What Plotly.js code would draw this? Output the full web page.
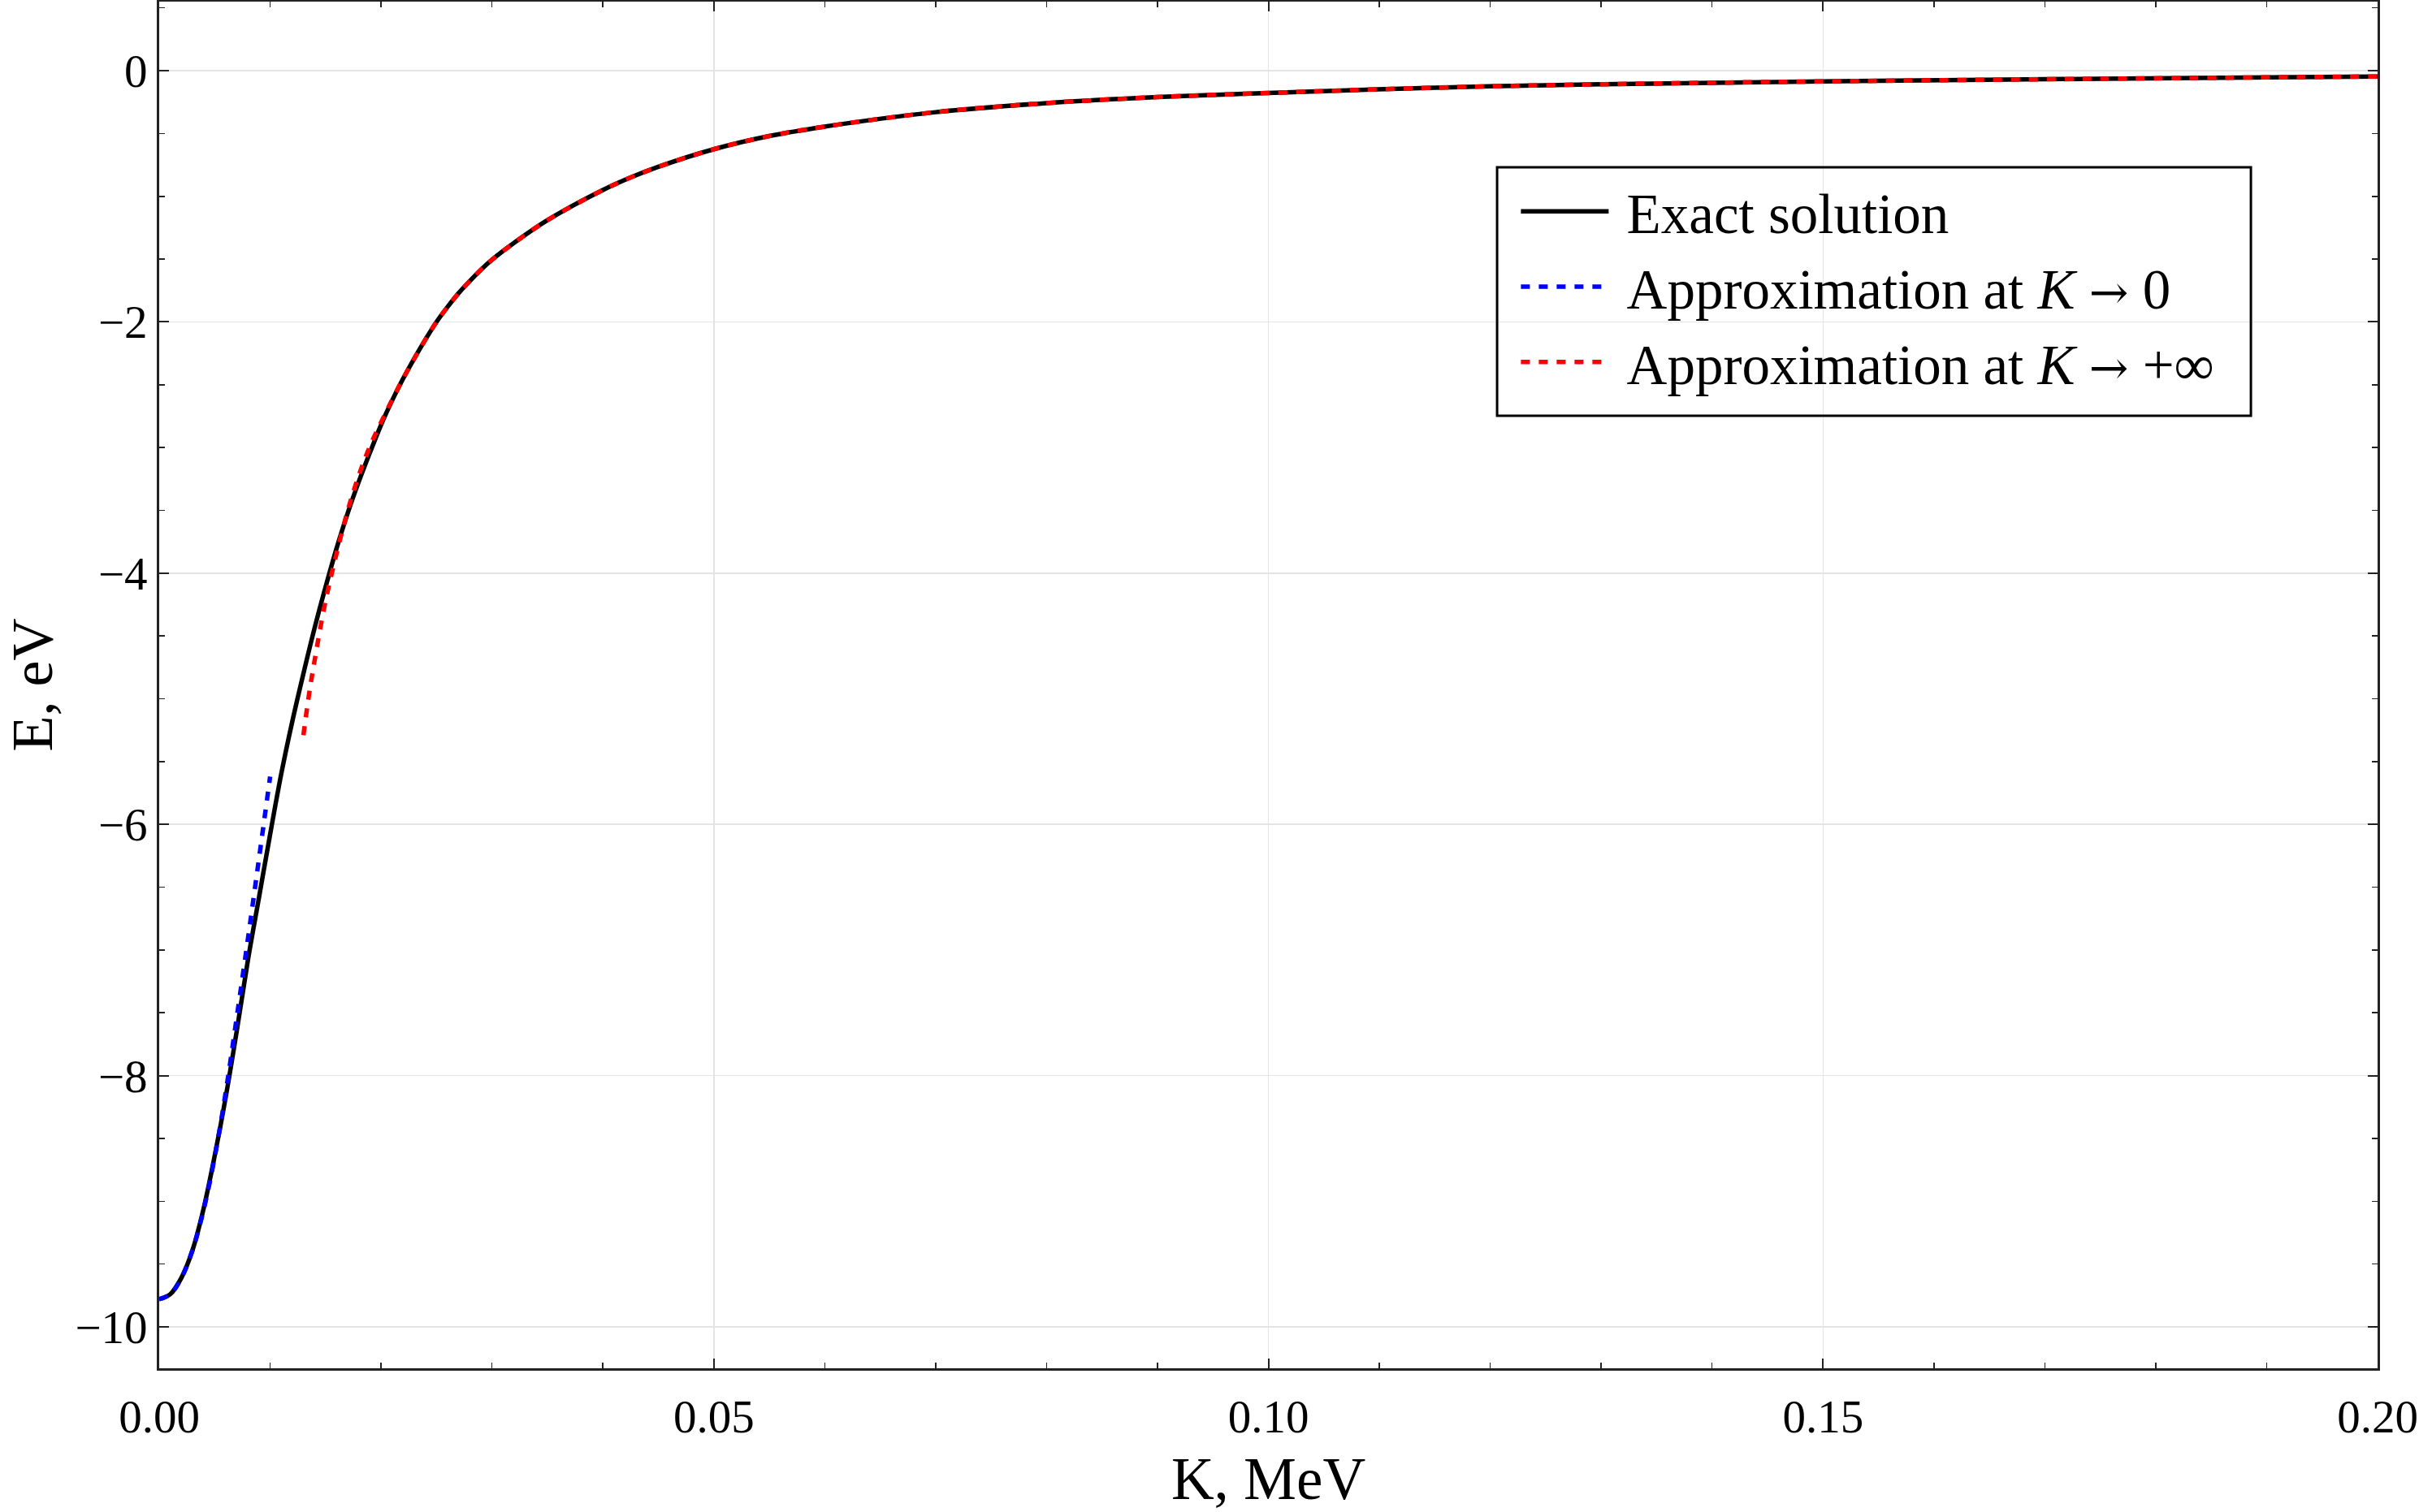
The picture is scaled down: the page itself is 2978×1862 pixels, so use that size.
<!DOCTYPE html>
<html>
<head>
<meta charset="utf-8">
<script src="https://cdn.plot.ly/plotly-3.0.1.min.js"></script>
<style>
  html, body { margin: 0; padding: 0; background: #fff; }
  #crtEnergy { width: 2978px; height: 1862px; }
</style>
</head>
<body>
<div id="crtEnergy"></div>
<script>
// K in MeV, E in eV
var exactK = [0, 0.001, 0.002, 0.003, 0.004, 0.005, 0.006, 0.007, 0.008, 0.009,
	0.010, 0.011, 0.012, 0.013, 0.014, 0.015, 0.016, 0.017, 0.018, 0.019,
	0.020, 0.021, 0.022, 0.023, 0.024, 0.025, 0.026, 0.027, 0.028, 0.029,
	0.030, 0.032, 0.035, 0.040, 0.0425, 0.045, 0.050, 0.055, 0.060, 0.070,
	0.080, 0.090, 0.100, 0.115, 0.130, 0.150, 0.175, 0.200];
var exactE = [-9.78, -9.74, -9.61, -9.39, -9.06, -8.64, -8.17, -7.64, -7.08, -6.58,
	-6.08, -5.60, -5.18, -4.80, -4.44, -4.11, -3.80, -3.52, -3.27, -3.04,
	-2.82, -2.625, -2.45, -2.29, -2.14, -2.00, -1.88, -1.77, -1.675, -1.585,
	-1.505, -1.37, -1.19, -0.95, -0.85, -0.765, -0.625, -0.52, -0.445, -0.33,
	-0.258, -0.21, -0.177, -0.135, -0.108, -0.085, -0.064, -0.046];

// approximation for small K
var lowK = [0, 0.001, 0.002, 0.003, 0.004, 0.005, 0.006, 0.007, 0.008, 0.009, 0.010];
var lowE = [-9.78, -9.74, -9.61, -9.39, -9.07, -8.65, -8.13, -7.53, -6.91, -6.27, -5.62];

// approximation for large K
var highK = [0.0130, 0.0135, 0.014, 0.015, 0.016, 0.017, 0.018, 0.019, 0.020, 0.021,
	0.022, 0.023, 0.024, 0.025, 0.026, 0.027, 0.028, 0.029, 0.030, 0.032,
	0.035, 0.040, 0.0425, 0.045, 0.050, 0.055, 0.060, 0.070, 0.080, 0.090,
	0.100, 0.115, 0.130, 0.150, 0.175, 0.200];
var highE = [-5.29, -4.97, -4.70, -4.22, -3.84, -3.50, -3.22, -2.99, -2.80, -2.62,
	-2.45, -2.29, -2.14, -2.00, -1.88, -1.77, -1.675, -1.585, -1.505, -1.37,
	-1.19, -0.95, -0.85, -0.765, -0.625, -0.52, -0.445, -0.33, -0.258, -0.21,
	-0.177, -0.135, -0.108, -0.085, -0.064, -0.046];

var xTicks = [0, 0.05, 0.10, 0.15, 0.20];
var yTicks = [0, -2, -4, -6, -8, -10];

var serif = "'Liberation Serif', 'Times New Roman', serif";
var dotDash = '11px,11px';
// arrow glyph of the legend labels
var arrow = '<span style="font-family:\'DejaVu Serif\';font-size:58px">\u2192</span>';

var data = [{
	x: exactK,
	y: exactE,
	name: '\u00a0Exact solution',
	type: 'scatter',
	mode: 'lines',
	line: { color: 'black', width: 5.5, shape: 'spline', smoothing: 1 }
}, {
	x: lowK,
	y: lowE,
	name: '\u00a0Approximation at <i>K</i> ' + arrow + ' 0',
	type: 'scatter',
	mode: 'lines',
	line: { color: '#0000ff', width: 5.5, dash: dotDash, shape: 'spline', smoothing: 1 }
}, {
	x: highK,
	y: highE,
	name: '\u00a0Approximation at <i>K</i> ' + arrow + ' +\u221e',
	type: 'scatter',
	mode: 'lines',
	line: { color: '#ff0000', width: 5.5, dash: dotDash, shape: 'spline', smoothing: 1 }
}];

var axisCommon = {
	showline: true,
	linecolor: '#222',
	linewidth: 3,
	mirror: 'allticks',
	ticks: 'inside',
	ticklen: 12,
	tickwidth: 2,
	tickcolor: '#222',
	showgrid: true,
	gridcolor: '#e4e4e4',
	gridwidth: 1.5,
	zeroline: false,
	tickfont: { family: serif, size: 57, color: 'black' }
};

var layout = {
	width: 2978,
	height: 1862,
	paper_bgcolor: 'white',
	plot_bgcolor: 'white',
	showlegend: true,
	margin: { l: 196, r: 51, t: 2, b: 177, pad: 0 },
	font: { family: serif, color: 'black' },
	xaxis: Object.assign({}, axisCommon, {
		range: [0, 0.2],
		tickvals: xTicks,
		tickformat: '.2f',
		ticklabelstandoff: 8,
		minor: { dtick: 0.01, ticks: 'inside', ticklen: 7, tickwidth: 1.5, tickcolor: '#222', showgrid: false },
		title: { text: 'K, MeV', font: { family: serif, size: 73, color: 'black' }, standoff: 24 }
	}),
	yaxis: Object.assign({}, axisCommon, {
		range: [-10.33, 0.55],
		tickvals: yTicks,
		minor: { dtick: 0.5, ticks: 'inside', ticklen: 7, tickwidth: 1.5, tickcolor: '#222', showgrid: false },
		title: { text: 'E, eV', font: { family: serif, size: 72, color: 'black' }, standoff: 30 }
	}),
	legend: {
		x: 0.612,
		y: 0.877,
		xanchor: 'left',
		yanchor: 'top',
		bgcolor: 'rgba(0,0,0,0)',
		borderwidth: 0,
		itemwidth: 108,
		font: { family: serif, size: 69, color: 'black' }
	},
	// frame round the legend (transparent, the grid shows through)
	shapes: [{
		type: 'rect',
		xref: 'paper',
		yref: 'paper',
		x0: 0.6031,
		x1: 0.9429,
		y0: 0.697,
		y1: 0.8788,
		line: { color: 'black', width: 3 },
		fillcolor: 'rgba(0,0,0,0)',
		layer: 'above'
	}]
};

Plotly.newPlot('crtEnergy', data, layout, { staticPlot: true, displayModeBar: false });
</script>
</body>
</html>
